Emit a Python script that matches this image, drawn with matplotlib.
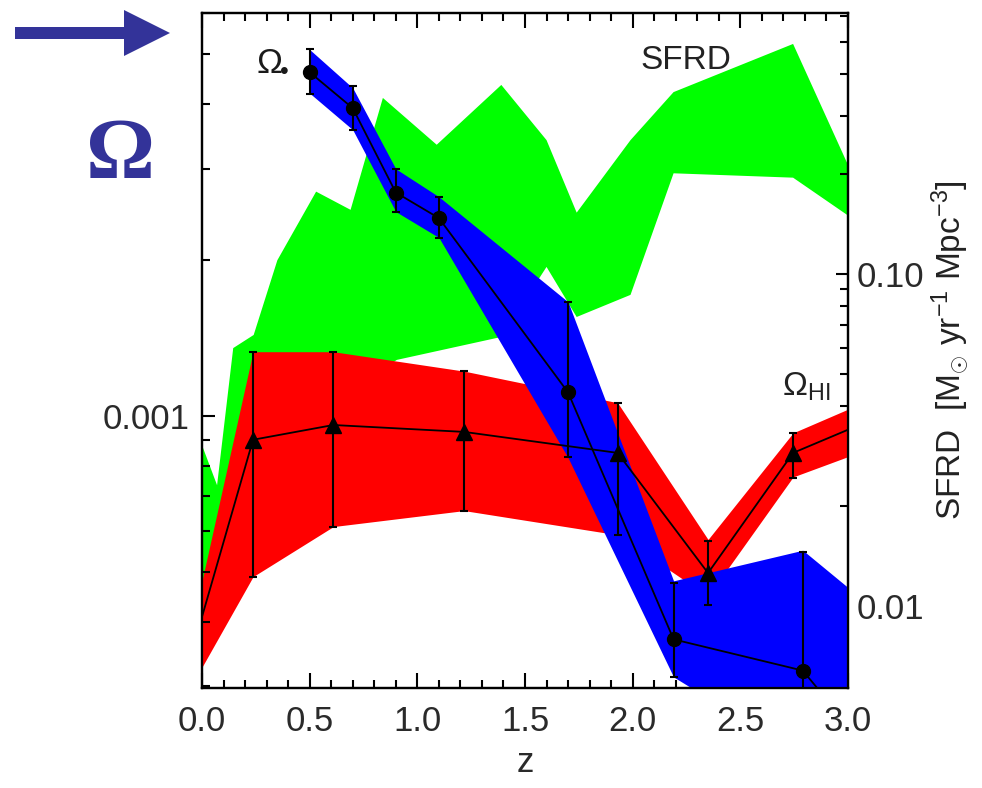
import numpy as np
import matplotlib
matplotlib.use("Agg")
import matplotlib.pyplot as plt
from matplotlib.ticker import FixedLocator, NullFormatter, FixedFormatter
from matplotlib.patches import FancyArrow
from matplotlib.transforms import IdentityTransform

plt.rcParams['font.family'] = ['Liberation Sans', 'DejaVu Sans']
plt.rcParams['mathtext.fontset'] = 'custom'
plt.rcParams['mathtext.rm'] = 'Liberation Sans'
plt.rcParams['mathtext.it'] = 'Liberation Sans'
plt.rcParams['mathtext.sf'] = 'Liberation Sans'

# ---------------- data ----------------
# Omega_star (stellar mass density) points, left axis
ostar_z = [0.50, 0.70, 0.90, 1.10, 1.70, 2.19, 2.79]
ostar_val = [0.00461, 0.00393, 0.00270, 0.00241, 0.00111, 0.00037, 0.000322]
ostar_hi = [0.00512, 0.00433, 0.00300, 0.00265, 0.00166, 0.000476, 0.000546]
ostar_lo = [0.00419, 0.00357, 0.00248, 0.00221, 0.000833, 0.000313, 0.00020]
# continuation of the connecting line beyond the last point
ostar_line_z = [0.50, 0.70, 0.90, 1.10, 1.70, 2.19, 2.79, 3.10]
ostar_line_val = [0.00461, 0.00393, 0.00270, 0.00241, 0.00111, 0.00037, 0.000322, 0.000225]
# Omega_star band
ostar_band_z = [0.50, 0.70, 0.90, 1.10, 1.70, 2.19, 2.79, 3.00]
ostar_band_hi = [0.0051, 0.0043, 0.0030, 0.00265, 0.00166, 0.00048, 0.00055, 0.000466]
ostar_band_lo = [0.0042, 0.00357, 0.00248, 0.00221, 0.00083, 0.000313, 0.00022, 0.00020]

# Omega_HI points, left axis
ohi_z = [0.237, 0.61, 1.217, 1.93, 2.35, 2.745]
ohi_val = [0.000899, 0.00096, 0.000931, 0.000848, 0.000497, 0.000848]
ohi_hi = [0.00133, 0.00133, 0.00122, 0.00106, 0.000574, 0.000927]
ohi_lo = [0.000489, 0.000611, 0.000656, 0.000589, 0.000431, 0.000759]
ohi_line_z = [0.0, 0.237, 0.61, 1.217, 1.93, 2.35, 2.745, 3.0]
ohi_line_val = [0.000409, 0.000899, 0.00096, 0.000931, 0.000848, 0.000497, 0.000848, 0.00094]
# Omega_HI band
ohi_band_z = [0.0, 0.237, 0.61, 1.217, 1.93, 2.35, 2.745, 3.0]
ohi_band_hi = [0.00048, 0.00133, 0.00133, 0.00122, 0.00106, 0.000577, 0.000927, 0.00103]
ohi_band_lo = [0.000327, 0.000489, 0.000611, 0.000656, 0.000589, 0.000448, 0.000762, 0.000834]

# SFRD band, right axis
sfrd_up_z = [0.0, 0.07, 0.145, 0.24, 0.35, 0.53, 0.69, 0.84, 1.09, 1.39, 1.60, 1.74, 1.99, 2.19, 2.745, 3.0]
sfrd_up = [0.0305, 0.0231, 0.0598, 0.0655, 0.110, 0.177, 0.156, 0.339, 0.245, 0.371, 0.253, 0.153, 0.253, 0.353, 0.493, 0.213]
sfrd_lo_z = [0.0, 0.24, 0.905, 1.39, 1.60, 1.74, 1.99, 2.19, 2.745, 3.0]
sfrd_lo = [0.0104, 0.0295, 0.0551, 0.0646, 0.105, 0.0742, 0.0865, 0.201, 0.195, 0.150]

x_ticks = [0.0, 0.5, 1.0, 1.5, 2.0, 2.5, 3.0]
x_ticklabels = ['0.0', '0.5', '1.0', '1.5', '2.0', '2.5', '3.0']
left_major = [0.001]
left_major_labels = ['0.001']
left_minor = [0.0003, 0.0004, 0.0005, 0.0006, 0.0007, 0.0008, 0.0009, 0.002, 0.003, 0.004, 0.005, 0.006]
right_major = [0.01, 0.1]
right_major_labels = ['0.01', '0.10']
right_minor = [0.006, 0.007, 0.008, 0.009, 0.02, 0.03, 0.04, 0.05, 0.06, 0.07, 0.08, 0.09,
               0.2, 0.3, 0.4, 0.5, 0.6]

# ---------------- figure ----------------
W, H = 982, 788
fig = plt.figure(figsize=(W / 100, H / 100), dpi=100)
ax = fig.add_axes([202 / W, 1 - 688 / H, 646 / W, 675 / H])
ax2 = ax.twinx()
ax.set_zorder(ax2.get_zorder() + 1)
ax.patch.set_visible(False)

# SFRD band (green) on right axis
poly_x = np.concatenate([sfrd_up_z, sfrd_lo_z[::-1]])
poly_y = np.concatenate([sfrd_up, sfrd_lo[::-1]])
ax2.fill(poly_x, poly_y, color='#00ff00', lw=0)
ax2.set_yscale('log')
ax2.set_ylim(0.00566, 0.611)

# Omega_HI band + Omega_star band
ax.fill_between(ohi_band_z, ohi_band_lo, ohi_band_hi, color='#ff0000', lw=0, zorder=1)
ax.fill_between(ostar_band_z, ostar_band_lo, ostar_band_hi, color='#0000ff', lw=0, zorder=2)

# lines, error bars, markers
ax.plot(ohi_line_z, ohi_line_val, color='k', lw=1.3, zorder=4)
ax.plot(ostar_line_z, ostar_line_val, color='k', lw=1.3, zorder=4)
ohi_val_a = np.array(ohi_val)
ax.errorbar(ohi_z, ohi_val, yerr=[ohi_val_a - np.array(ohi_lo), np.array(ohi_hi) - ohi_val_a],
            fmt='none', ecolor='k', elinewidth=1.5, capsize=3, capthick=1.5, zorder=5)
osv = np.array(ostar_val)
ax.errorbar(ostar_z, ostar_val, yerr=[osv - np.array(ostar_lo), np.array(ostar_hi) - osv],
            fmt='none', ecolor='k', elinewidth=1.5, capsize=3, capthick=1.5, zorder=5)
ax.plot(ohi_z, ohi_val, ls='none', marker='^', ms=11, color='k', zorder=6)
ax.plot(ostar_z, ostar_val, ls='none', marker='o', ms=10, color='k', zorder=6)

ax.set_yscale('log')
ax.set_xlim(0, 3.0)
ax.set_ylim(0.000298, 0.0060)

# ticks
tick_color = '#2a2a2a'
ax.xaxis.set_major_locator(FixedLocator(x_ticks))
ax.xaxis.set_major_formatter(FixedFormatter(x_ticklabels))
ax.xaxis.set_minor_locator(FixedLocator(np.round(np.arange(0, 3.01, 0.1), 2)))
ax.yaxis.set_major_locator(FixedLocator(left_major))
ax.yaxis.set_major_formatter(FixedFormatter(left_major_labels))
ax.yaxis.set_minor_locator(FixedLocator(left_minor))
ax.yaxis.set_minor_formatter(NullFormatter())
ax2.yaxis.set_major_locator(FixedLocator(right_major))
ax2.yaxis.set_major_formatter(FixedFormatter(right_major_labels))
ax2.yaxis.set_minor_locator(FixedLocator(right_minor))
ax2.yaxis.set_minor_formatter(NullFormatter())

ax.tick_params(axis='x', which='both', direction='in', top=True, bottom=True,
               labelsize=25, labelcolor=tick_color, pad=12)
ax.tick_params(axis='x', which='major', length=11, width=1.5)
ax.tick_params(axis='x', which='minor', length=6, width=1.5)
ax.tick_params(axis='y', which='both', direction='in', left=True, right=False,
               labelsize=25, labelcolor=tick_color, pad=9)
ax.tick_params(axis='y', which='major', length=9, width=1.5)
ax.tick_params(axis='y', which='minor', length=6, width=1.5)
ax2.tick_params(axis='y', which='both', direction='in', left=False, right=True,
                labelsize=25, labelcolor=tick_color, pad=6)
ax2.tick_params(axis='y', which='major', length=9, width=1.5)
ax2.tick_params(axis='y', which='minor', length=6, width=1.5)
for a in (ax, ax2):
    for s in a.spines.values():
        s.set_linewidth(1.6)

ax.set_xlabel('z', fontsize=25, color=tick_color, labelpad=6)

# texts inside the plot
ax.text(0.104, 0.925, '\u03a9', transform=ax.transAxes, fontsize=25,
        ha='center', va='center', color='#1a1a1a', zorder=7)
ax.text(0.128, 0.912, '\u2022', transform=ax.transAxes, fontsize=18,
        ha='center', va='center', color='#1a1a1a', zorder=7)
ax.text(0.749, 0.930, 'SFRD', transform=ax.transAxes, fontsize=24,
        ha='center', va='center', color='#222222', zorder=7)
ax.text(0.935, 0.446, r'$\Omega_{\mathrm{HI}}$', transform=ax.transAxes, fontsize=24,
        ha='center', va='center', color='#222222', zorder=7)

# right axis label
fig.text(950 / W, 1 - 350 / H,
         r'SFRD  $[\mathrm{M}_{\odot}\ \mathrm{yr}^{-1}\ \mathrm{Mpc}^{-3}]$',
         rotation=90, fontsize=24, ha='center', va='center', color='#222222')

# decoration: big Omega and arrow
fig.text(120 / W, 1 - 158 / H, '\u03a9', fontsize=62, family='Liberation Serif',
         weight='bold', color='#333399', ha='center', va='center')
arrow = FancyArrow(15, H - 33, 155, 0, width=12, head_width=46, head_length=46,
                   length_includes_head=True, transform=IdentityTransform(),
                   color='#333399', lw=0)
fig.patches.append(arrow)

fig.savefig('out.png', dpi=100)
